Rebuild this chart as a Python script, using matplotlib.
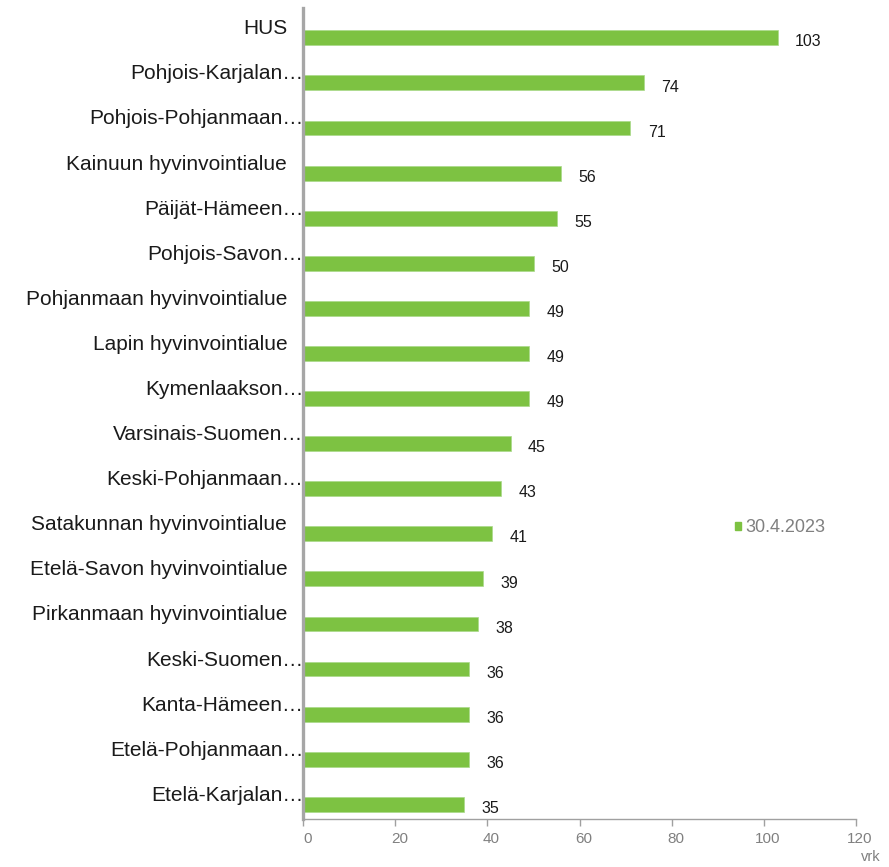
import matplotlib
matplotlib.use("Agg")
from matplotlib import pyplot as plt
from matplotlib.patches import Patch
from matplotlib.transforms import offset_copy

plt.rcParams['font.family'] = ['Liberation Sans', 'DejaVu Sans']

# labels as shown in the chart (truncated ones keep their ellipsis)
regions = [
    "HUS",
    "Pohjois-Karjalan…",
    "Pohjois-Pohjanmaan…",
    "Kainuun hyvinvointialue",
    "Päijät-Hämeen…",
    "Pohjois-Savon…",
    "Pohjanmaan hyvinvointialue",
    "Lapin hyvinvointialue",
    "Kymenlaakson…",
    "Varsinais-Suomen…",
    "Keski-Pohjanmaan…",
    "Satakunnan hyvinvointialue",
    "Etelä-Savon hyvinvointialue",
    "Pirkanmaan hyvinvointialue",
    "Keski-Suomen…",
    "Kanta-Hämeen…",
    "Etelä-Pohjanmaan…",
    "Etelä-Karjalan…",
]
days = [103, 74, 71, 56, 55, 50, 49, 49, 49, 45, 43, 41, 39, 38, 36, 36, 36, 35]
series_name = "30.4.2023"
x_ticks = [0, 20, 40, 60, 80, 100, 120]

green = "#7DC242"
grey = "#808080"

fig = plt.figure(figsize=(8.89, 8.67), dpi=100)
ax = fig.add_axes([0.341, 0.055, 0.622, 0.936])

pos = list(range(len(regions)))
ax.barh(pos, days, height=0.33, color=green, edgecolor="#A9D98A", linewidth=0.5)

ax.set_xlim(0, 120)
ax.set_ylim(len(regions) - 1 + 0.333, -0.666)
ax.set_yticks([])
ax.set_xticks(x_ticks)
ax.tick_params(axis='x', direction='out', length=5, width=1, color="#A0A0A0",
               labelsize=11, labelcolor=grey, pad=4)
for lbl in ax.get_xticklabels():
    lbl.set_transform(offset_copy(lbl.get_transform(), fig=fig, x=4, y=0, units='dots'))

for s in ['top', 'right']:
    ax.spines[s].set_visible(False)
ax.spines['left'].set_color("#A6A6A6")
ax.spines['left'].set_linewidth(2.4)
ax.spines['bottom'].set_color("#A0A0A0")
ax.spines['bottom'].set_linewidth(1)

trans = ax.get_yaxis_transform()
for i, name in enumerate(regions):
    shift = 0 if name.endswith("…") else -16
    t = offset_copy(trans, fig=fig, x=shift, y=0, units='dots')
    ax.text(0, i - 0.2, name, transform=t, ha='right', va='center',
            fontsize=15, color="#1a1a1a")

for i, v in enumerate(days):
    ax.annotate(str(v), (v, i), xytext=(12.5, -3), textcoords='offset points',
                ha='left', va='center', fontsize=11.5, color="#1a1a1a")

leg = ax.legend(handles=[Patch(color=green, label=series_name)], frameon=False,
                loc='center left', bbox_to_anchor=(0.752, 0.359),
                handlelength=0.3, handleheight=0.3, handletextpad=0.25,
                fontsize=13)
for t in leg.get_texts():
    t.set_color(grey)

fig.text(0.99, 0.003, "vrk", ha='right', va='bottom', fontsize=10.5, color=grey)

fig.savefig("out.png", dpi=100)
